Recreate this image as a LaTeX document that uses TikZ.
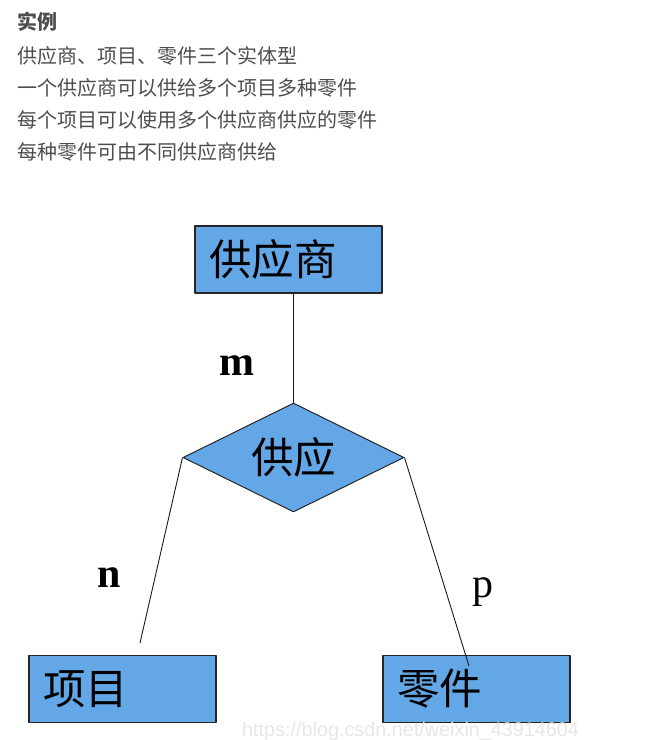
\documentclass[tikz,border=0pt]{standalone}
\usepackage{fontspec}
\setmainfont{Liberation Serif}
\newfontfamily\cjk{Noto Sans CJK SC}
\newfontfamily\wmfont{Liberation Sans}
\usetikzlibrary{shapes.geometric}
\definecolor{erblue}{RGB}{99,167,230}
\definecolor{txtgray}{RGB}{77,77,77}
\definecolor{wmgray}{RGB}{230,230,230}
\tikzset{
  entity/.style={draw=black!85, fill=erblue, line width=1.1pt, rectangle, minimum height=67pt,
    text width=159pt, inner xsep=14pt, inner ysep=0pt, align=left, font=\cjk\fontsize{42.5}{42.5}\selectfont},
  relation/.style={draw=black!85, fill=erblue, line width=1pt, diamond, aspect=2, inner sep=0pt,
    minimum width=221pt, minimum height=109pt, font=\cjk\fontsize{42.5}{42.5}\selectfont},
  card/.style={font=\fontsize{42}{42}\selectfont},
  link/.style={line width=0.9pt, black!90},
}
\begin{document}
\begin{tikzpicture}[x=1pt,y=1pt,line join=round]
\useasboundingbox (0,0) rectangle (671,-740);
% header
\node[anchor=west, inner sep=0pt, text=txtgray, font=\cjk\bfseries\fontsize{20}{20}\selectfont] (title) at (17,-22) {实例};
\foreach \y/\t/\n in {-56/供应商、项目、零件三个实体型/l1,
                      -88/一个供应商可以供给多个项目多种零件/l2,
                      -120/每个项目可以使用多个供应商供应的零件/l3,
                      -152/每种零件可由不同供应商供给/l4}
  {\node[anchor=west, inner sep=0pt, text=txtgray, font=\cjk\fontsize{20}{20}\selectfont] (\n) at (17,\y) {\t};}
% entities and relation
\node[entity] (supplier) at (288.5,-259.5) {供应商};
\node[relation] (supply) at (293.5,-457.5) {供应};
\node[entity] (project) at (122.5,-689) {项目};
\node[entity] (part) at (476.5,-689) {零件};
% free ends of the links
\coordinate (pend) at (140,-643);
\coordinate (qend) at (469,-666);
\draw[link] (supplier.south -| supply.north) -- (supply.north);
\draw[link] (supply.west) -- (pend);
\draw[link] (supply.east) -- (qend);
% cardinalities
\node[card, font=\bfseries\fontsize{42}{42}\selectfont] (m) at (237,-366) {m};
\node[card, font=\bfseries\fontsize{42}{42}\selectfont] (n) at (109,-578) {n};
\node[card] (p) at (483,-592) {p};
% watermark
\node[anchor=west, inner sep=0pt, text=wmgray, font=\wmfont\fontsize{19.8}{19.8}\selectfont] (wm) at (242,-731) {https://blog.csdn.net/weixin\_43914604};
\end{tikzpicture}
\end{document}
